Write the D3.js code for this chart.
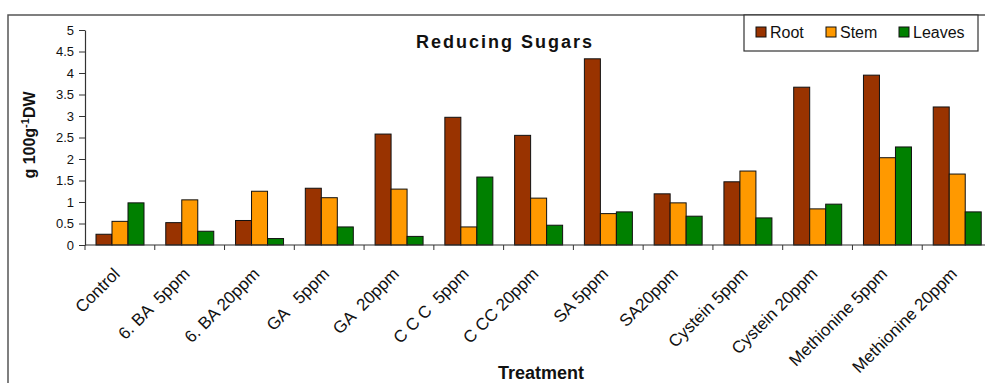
<!DOCTYPE html>
<html>
<head>
<meta charset="utf-8">
<script src="https://d3js.org/d3.v7.min.js"></script>
<style>
  body { margin: 0; background: #fff; }
  text { font-family: Arial, "Liberation Sans", sans-serif; }
</style>
</head>
<body>
<svg id="chart" width="985" height="383"></svg>
<script>
const treatments = ["Control", "6. BA  5ppm", "6. BA 20ppm", "GA   5ppm", "GA  20ppm", "C C C  5ppm",
  "C CC 20ppm", "SA 5ppm", "SA20ppm", "Cystein 5ppm", "Cystein 20ppm", "Methionine 5ppm", "Methionine 20ppm"];
const root   = [0.25, 0.52, 0.57, 1.32, 2.58, 2.97, 2.55, 4.33, 1.19, 1.47, 3.67, 3.95, 3.21];
const stem   = [0.55, 1.05, 1.25, 1.10, 1.30, 0.42, 1.09, 0.73, 0.98, 1.72, 0.84, 2.03, 1.65];
const leaves = [0.98, 0.32, 0.15, 0.42, 0.20, 1.58, 0.46, 0.77, 0.67, 0.63, 0.95, 2.28, 0.77];
const seriesNames = ["Root", "Stem", "Leaves"];
const seriesColors = ["#993300", "#FF9900", "#008000"];
const yTicks = [0, 0.5, 1, 1.5, 2, 2.5, 3, 3.5, 4, 4.5, 5];

const svg = d3.select("#chart");
const values = [root, stem, leaves];

// outer frame (cut at right and bottom in the picture)
svg.append("path").attr("d", "M8,383 L8,15 L985,15").attr("fill", "none")
  .attr("stroke", "#555").attr("stroke-width", 1.5);

const x0 = d3.scaleBand().domain(treatments).range([85, 992]);
const x1 = d3.scaleBand().domain(seriesNames).range([11, 59]);
const y = d3.scaleLinear().domain([0, 5]).range([245, 30]);

// y axis
const yAxis = svg.append("g").attr("transform", "translate(85,0)")
  .call(d3.axisLeft(y).tickValues(yTicks).tickSize(6).tickSizeOuter(0).tickFormat(d => d));
yAxis.select(".domain").attr("stroke", "#333").attr("stroke-width", 1.2);
yAxis.selectAll(".tick line").attr("stroke", "#333");
yAxis.selectAll(".tick text").attr("font-size", 13).attr("fill", "#111").attr("x", -11)
  .style("font-family", "Arial, 'Liberation Sans', sans-serif");

// bars
const groups = svg.append("g").selectAll("g").data(treatments).join("g")
  .attr("transform", d => `translate(${x0(d)},0)`);
groups.selectAll("rect").data((d, i) => seriesNames.map((s, k) => ({ s: s, v: values[k][i], k: k })))
  .join("rect")
  .attr("x", d => x1(d.s))
  .attr("width", x1.bandwidth())
  .attr("y", d => y(d.v))
  .attr("height", d => y(0) - y(d.v))
  .attr("fill", d => seriesColors[d.k])
  .attr("stroke", "#111").attr("stroke-width", 1);

// x axis
const xAxis = svg.append("g").attr("transform", "translate(0,245)");
xAxis.append("line").attr("x1", 85).attr("x2", 992).attr("y1", 0).attr("y2", 0)
  .attr("stroke", "#333").attr("stroke-width", 1.2);
xAxis.selectAll(".tk").data(treatments).join("line").attr("class", "tk")
  .attr("x1", d => x0(d)).attr("x2", d => x0(d)).attr("y1", 0).attr("y2", 5)
  .attr("stroke", "#333");
xAxis.selectAll(".lbl").data(treatments).join("text").attr("class", "lbl")
  .attr("transform", d => `translate(${x0(d) + x0.bandwidth() / 2 + 1},${30}) rotate(-45)`)
  .attr("text-anchor", "end").attr("font-size", 17).attr("fill", "#111")
  .style("white-space", "pre").text(d => d);

// titles
svg.append("text").attr("x", 505).attr("y", 48).attr("text-anchor", "middle")
  .attr("font-size", 18).attr("font-weight", "bold").attr("letter-spacing", 2)
  .attr("fill", "#111").text("Reducing Sugars");
svg.append("text").attr("x", 541).attr("y", 379).attr("text-anchor", "middle")
  .attr("font-size", 18).attr("font-weight", "bold").attr("fill", "#111").text("Treatment");
const yt = svg.append("text").attr("transform", "translate(35,135) rotate(-90)")
  .attr("text-anchor", "middle").attr("font-size", 16).attr("font-weight", "bold")
  .attr("fill", "#111");
yt.append("tspan").text("g 100g");
yt.append("tspan").attr("dy", -6).attr("font-size", 11).text("-1");
yt.append("tspan").attr("dy", 6).text("DW");

// legend
const lg = svg.append("g");
lg.append("rect").attr("x", 744).attr("y", 15).attr("width", 234).attr("height", 36)
  .attr("fill", "#fff").attr("stroke", "#333").attr("stroke-width", 1.2);
const lx = [756, 826, 899];
seriesNames.forEach((s, k) => {
  lg.append("rect").attr("x", lx[k]).attr("y", 27).attr("width", 10).attr("height", 10)
    .attr("fill", seriesColors[k]).attr("stroke", "#111");
  lg.append("text").attr("x", lx[k] + 14).attr("y", 38).attr("font-size", 16)
    .attr("fill", "#111").text(s);
});
</script>
</body>
</html>
